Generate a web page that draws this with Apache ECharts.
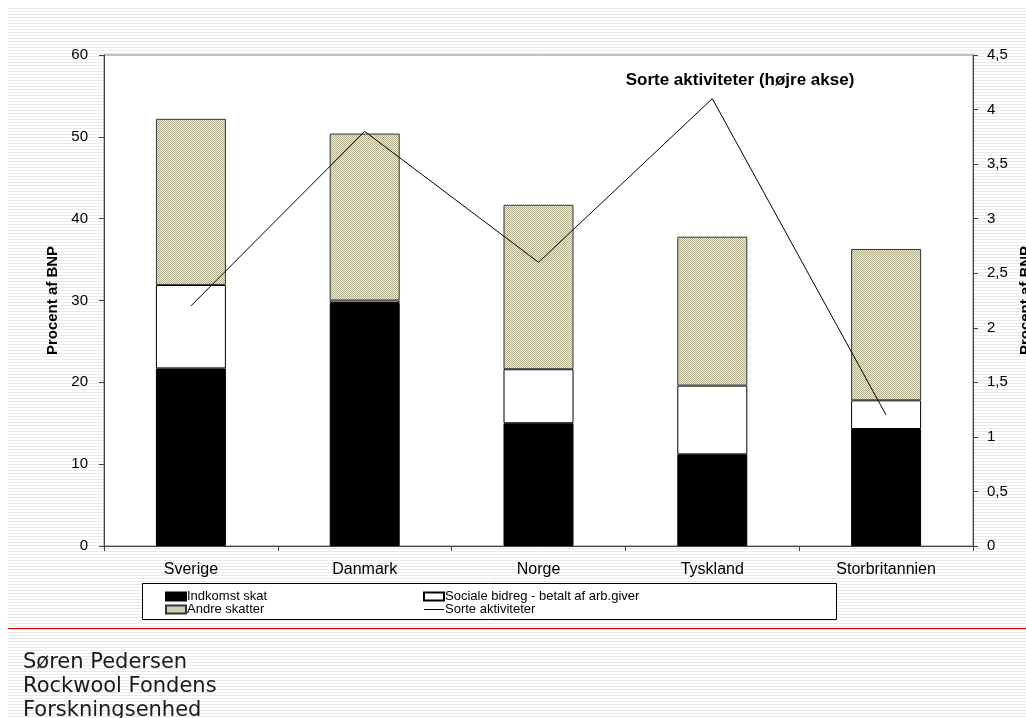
<!DOCTYPE html>
<html>
<head>
<meta charset="utf-8">
<script src="https://cdn.jsdelivr.net/npm/echarts@6/dist/echarts.min.js"></script>
<style>html,body{margin:0;padding:0;background:#fff;}#c{width:1026px;height:718px;}</style>
</head>
<body>
<div id="c"></div>
<script>
var categories = ['Sverige', 'Danmark', 'Norge', 'Tyskland', 'Storbritannien'];
var indkomstSkat = [21.7, 29.7, 15.0, 11.2, 14.3];
var socialeBidreg = [10.2, 0.3, 6.6, 8.4, 3.5];
var andreSkatter = [20.3, 20.4, 20.1, 18.2, 18.5];
var sorteAktiviteter = [2.2, 3.8, 2.6, 4.1, 1.2];
var leftTicks = [0, 10, 20, 30, 40, 50, 60];
var rightTicks = ['0', '0,5', '1', '1,5', '2', '2,5', '3', '3,5', '4', '4,5'];

function makePattern(w, h, draw) {
  var cv = document.createElement('canvas');
  cv.width = w; cv.height = h;
  var ctx = cv.getContext('2d');
  draw(ctx);
  return { image: cv, repeat: 'repeat' };
}
var khaki = makePattern(2, 2, function (c) {
  c.fillStyle = '#eeedd2'; c.fillRect(0, 0, 2, 2);
  c.fillStyle = '#b3b08f'; c.fillRect(0, 0, 1, 1); c.fillRect(1, 1, 1, 1);
});
var stripes = makePattern(4, 3, function (c) {
  c.fillStyle = '#ffffff'; c.fillRect(0, 0, 4, 3);
  c.fillStyle = '#e9e9e9'; c.fillRect(0, 2, 4, 1);
});

var font = '"Liberation Sans", Arial, sans-serif';
var chart = echarts.init(document.getElementById('c'), null, { renderer: 'canvas' });
chart.setOption({
  animation: false,
  backgroundColor: '#ffffff',
  textStyle: { fontFamily: font },
  grid: { left: 104, right: 53, top: 55, bottom: 172, show: true, backgroundColor: '#ffffff', borderColor: '#808080', borderWidth: 1, containLabel: false, outerBoundsMode: 'none' },
  graphic: [
    { type: 'rect', z: -10, silent: true, shape: { x: 8, y: 7, width: 1018, height: 711 }, style: { fill: stripes } },
    { type: 'line', z: 1, silent: true, shape: { x1: 8, y1: 628.5, x2: 1026, y2: 628.5 }, style: { stroke: '#e00000', lineWidth: 1 } },
    { type: 'rect', z: 1, silent: true, shape: { x: 142.5, y: 583.5, width: 694, height: 36 }, style: { fill: '#ffffff', stroke: '#000000', lineWidth: 1 } },
    { type: 'text', z: 10, x: 740, y: 80, style: { text: 'Sorte aktiviteter (højre akse)', font: 'bold 17px ' + font, fill: '#000', align: 'center', verticalAlign: 'middle' } },
    { type: 'text', z: 10, left: 23, top: 651, style: { text: 'Søren Pedersen\nRockwool Fondens\nForskningsenhed', font: '21px "DejaVu Sans", Verdana, sans-serif', lineHeight: 24, fill: '#1a1a1a' } }
  ],
  legend: [
    { orient: 'vertical', left: 165, top: 590, itemWidth: 20, itemHeight: 8, itemGap: 0, padding: 0,
      textStyle: { fontSize: 13, lineHeight: 13, color: '#000', padding: [0, 0, 0, -4] },
      data: [{ name: 'Indkomst skat', icon: 'rect' }, { name: 'Andre skatter', icon: 'rect' }] },
    { orient: 'vertical', left: 423, top: 590, itemWidth: 20, itemHeight: 8, itemGap: 0, padding: 0,
      textStyle: { fontSize: 13, lineHeight: 13, color: '#000', padding: [0, 0, 0, -4] },
      data: [{ name: 'Sociale bidreg - betalt af arb.giver', icon: 'rect' }, { name: 'Sorte aktiviteter', icon: 'path://M0,0 L20,0 L20,1 L0,1 Z' }] }
  ],
  xAxis: {
    type: 'category', data: categories, boundaryGap: true,
    axisLine: { lineStyle: { color: '#404040', width: 1 } },
    axisTick: { show: true, length: 5, lineStyle: { color: '#404040' } },
    axisLabel: { fontSize: 16, color: '#000', margin: 16 }
  },
  yAxis: [
    { type: 'value', min: 0, max: 60, interval: 10, position: 'left',
      name: 'Procent af BNP', nameLocation: 'middle', nameGap: 44, nameRotate: 90,
      nameTextStyle: { fontSize: 15, fontWeight: 'bold', color: '#000' },
      axisLine: { show: true, lineStyle: { color: '#404040' } },
      axisTick: { show: true, length: 5, lineStyle: { color: '#404040' } },
      splitLine: { show: false },
      axisLabel: { fontSize: 15, color: '#000', margin: 16, formatter: function (v) { return leftTicks.indexOf(v) >= 0 ? String(v) : ''; } } },
    { type: 'value', min: 0, max: 4.5, interval: 0.5, position: 'right',
      name: 'Procent af BNP', nameLocation: 'middle', nameGap: 45, nameRotate: 90,
      nameTextStyle: { fontSize: 15, fontWeight: 'bold', color: '#000' },
      axisLine: { show: true, lineStyle: { color: '#404040' } },
      axisTick: { show: true, length: 5, lineStyle: { color: '#404040' } },
      splitLine: { show: false },
      axisLabel: { fontSize: 15, color: '#000', margin: 14, formatter: function (v) { return rightTicks[Math.round(v * 2)]; } } }
  ],
  series: [
    { name: 'Indkomst skat', type: 'bar', stack: 's', barWidth: 70, data: indkomstSkat,
      itemStyle: { color: '#000000', borderColor: '#000000', borderWidth: 1 } },
    { name: 'Sociale bidreg - betalt af arb.giver', type: 'bar', stack: 's', barWidth: 70, data: socialeBidreg,
      itemStyle: { color: '#ffffff', borderColor: '#000000', borderWidth: 1 } },
    { name: 'Andre skatter', type: 'bar', stack: 's', barWidth: 70, data: andreSkatter,
      itemStyle: { color: khaki, borderColor: '#333333', borderWidth: 1 } },
    { name: 'Sorte aktiviteter', type: 'line', yAxisIndex: 1, data: sorteAktiviteter, symbol: 'none', showSymbol: false,
      lineStyle: { color: '#000000', width: 1 }, itemStyle: { color: '#000000' }, z: 5 }
  ]
});
</script>
</body>
</html>
